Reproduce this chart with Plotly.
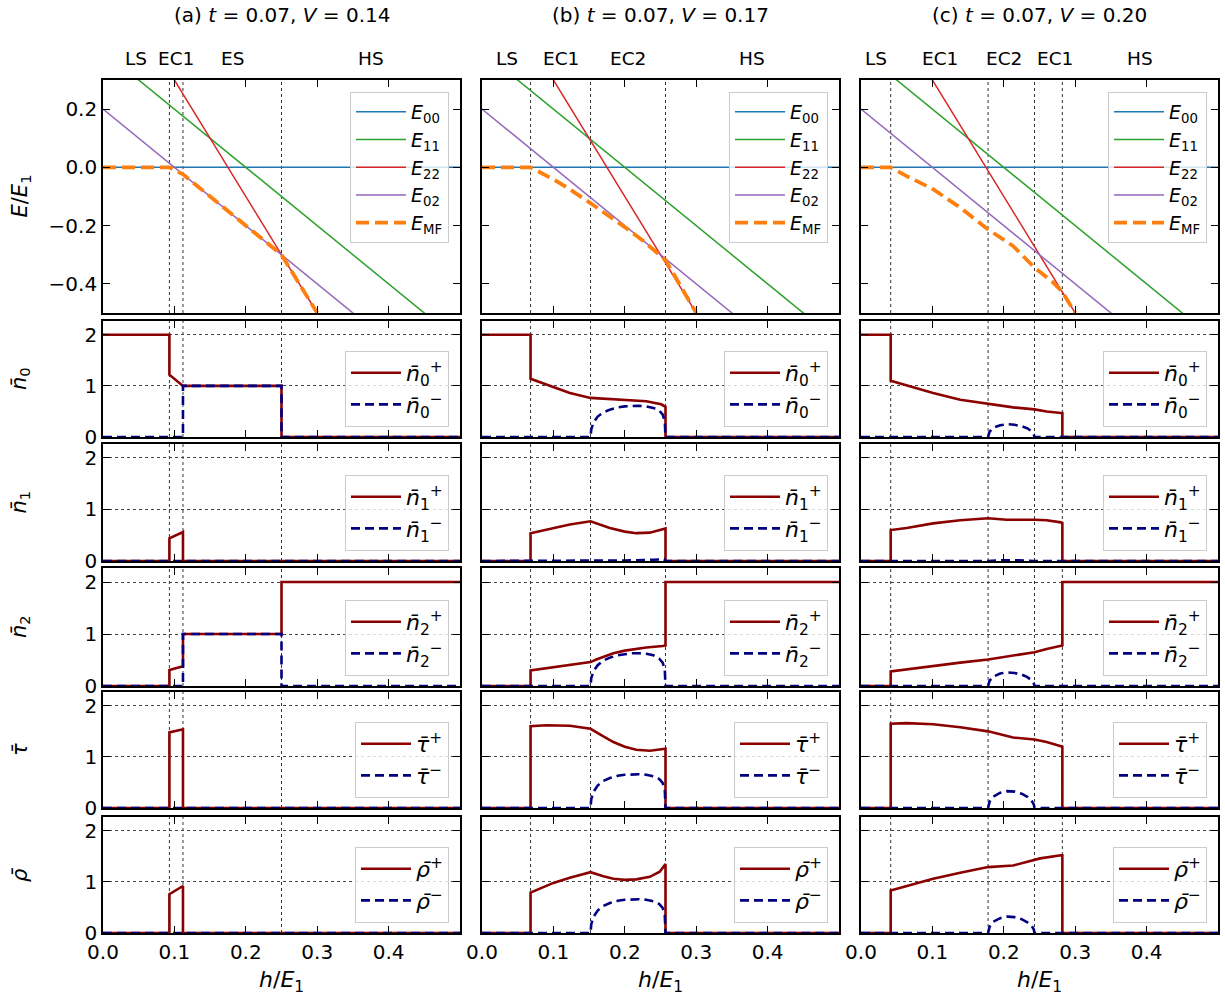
import plotly.graph_objects as go

# ---------------- data ----------------
# energy lines (straight lines, given by end points at h = 0 and h = 0.5)
h_line = [0.0, 0.5]
E00 = [0.0, 0.0]
E11 = [0.4, -0.6]
E22 = [0.7, -1.3]
E02 = [0.2, -0.8]

# mean-field energy per panel
a_mf_h = [0.0, 0.093, 0.1, 0.112, 0.25, 0.3]
a_mf = [0.0, 0.0, -0.009, -0.024, -0.3, -0.5]
b_mf_h = [0.0, 0.068, 0.1, 0.123, 0.152, 0.179, 0.2, 0.226, 0.257, 0.3]
b_mf = [0.0, 0.0, -0.041, -0.075, -0.123, -0.167, -0.205, -0.253, -0.318, -0.5]
c_mf_h = [0.0, 0.0416, 0.064, 0.101, 0.139, 0.178, 0.213, 0.243, 0.269, 0.282, 0.3]
c_mf = [0.0, 0.0, -0.030, -0.075, -0.138, -0.213, -0.27, -0.344, -0.395, -0.428, -0.5]

# phase boundaries
a_bounds = [0.093, 0.112, 0.25]
b_bounds = [0.068, 0.152, 0.257]
c_bounds = [0.0416, 0.178, 0.243, 0.282]

# region labels
a_regions = ["LS", "EC1", "ES", "HS"]
a_region_x = [0.046, 0.102, 0.181, 0.375]
b_regions = ["LS", "EC1", "EC2", "HS"]
b_region_x = [0.0345, 0.110, 0.2046, 0.3786]
c_regions = ["LS", "EC1", "EC2", "EC1", "HS"]
c_region_x = [0.021, 0.1106, 0.2003, 0.2717, 0.3908]

titles = ["(a) <i>t</i> = 0.07, <i>V</i> = 0.14",
          "(b) <i>t</i> = 0.07, <i>V</i> = 0.17",
          "(c) <i>t</i> = 0.07, <i>V</i> = 0.20"]

zero_h = [0.0, 0.5]
zero_v = [0.0, 0.0]

# ---- panel (a) ----
a_n0p_h = [0.0, 0.093, 0.093, 0.112, 0.25, 0.25, 0.5]
a_n0p = [2.0, 2.0, 1.22, 1.0, 1.0, 0.0, 0.0]
a_n0m_h = [0.0, 0.112, 0.112, 0.25, 0.25, 0.5]
a_n0m = [0.0, 0.0, 1.0, 1.0, 0.0, 0.0]
a_n1p_h = [0.0, 0.093, 0.093, 0.112, 0.112, 0.5]
a_n1p = [0.0, 0.0, 0.44, 0.56, 0.0, 0.0]
a_n2p_h = [0.0, 0.093, 0.093, 0.112, 0.112, 0.25, 0.25, 0.5]
a_n2p = [0.0, 0.0, 0.31, 0.38, 1.0, 1.0, 2.0, 2.0]
a_n2m_h = [0.0, 0.112, 0.112, 0.25, 0.25, 0.5]
a_n2m = [0.0, 0.0, 1.0, 1.0, 0.0, 0.0]
a_taup_h = [0.0, 0.093, 0.093, 0.112, 0.112, 0.5]
a_taup = [0.0, 0.0, 1.48, 1.54, 0.0, 0.0]
a_rhop_h = [0.0, 0.093, 0.093, 0.112, 0.112, 0.5]
a_rhop = [0.0, 0.0, 0.76, 0.92, 0.0, 0.0]

# ---- panel (b) ----
b_n0p_h = [0.0, 0.068, 0.068, 0.1, 0.123, 0.152, 0.179, 0.2, 0.23, 0.251, 0.257, 0.257, 0.5]
b_n0p = [2.0, 2.0, 1.14, 0.98, 0.86, 0.765, 0.745, 0.73, 0.70, 0.64, 0.59, 0.0, 0.0]
b_dome_h = [0.0, 0.152, 0.153, 0.156, 0.162, 0.17, 0.18, 0.19, 0.2, 0.21, 0.22,
            0.23, 0.24, 0.248, 0.253, 0.256, 0.257, 0.5]
b_n0m = [0.0, 0.0, 0.15, 0.28, 0.40, 0.48, 0.54, 0.58, 0.60, 0.61, 0.61,
         0.60, 0.57, 0.52, 0.44, 0.32, 0.0, 0.0]
b_n1p_h = [0.0, 0.068, 0.068, 0.1, 0.123, 0.152, 0.165, 0.179, 0.2, 0.216, 0.235, 0.253, 0.257, 0.257, 0.5]
b_n1p = [0.0, 0.0, 0.54, 0.64, 0.71, 0.77, 0.70, 0.64, 0.57, 0.54, 0.55, 0.61, 0.63, 0.0, 0.0]
b_n1m_h = [0.0, 0.152, 0.2, 0.24, 0.255, 0.257, 0.5]
b_n1m = [0.0, 0.0, 0.01, 0.025, 0.035, 0.0, 0.0]
b_n2p_h = [0.0, 0.068, 0.068, 0.152, 0.16, 0.17, 0.184, 0.2, 0.23, 0.253, 0.257, 0.257, 0.5]
b_n2p = [0.0, 0.0, 0.30, 0.46, 0.51, 0.56, 0.63, 0.68, 0.74, 0.77, 0.78, 2.0, 2.0]
b_n2m = [0.0, 0.0, 0.15, 0.28, 0.40, 0.49, 0.55, 0.59, 0.61, 0.63, 0.63,
         0.62, 0.59, 0.53, 0.45, 0.32, 0.0, 0.0]
b_taup_h = [0.0, 0.068, 0.068, 0.09, 0.123, 0.152, 0.17, 0.184, 0.2, 0.216, 0.235, 0.2545, 0.257, 0.257, 0.5]
b_taup = [0.0, 0.0, 1.60, 1.62, 1.61, 1.55, 1.40, 1.29, 1.20, 1.14, 1.12, 1.15, 1.16, 0.0, 0.0]
b_taum = [0.0, 0.0, 0.17, 0.31, 0.44, 0.53, 0.59, 0.63, 0.65, 0.66, 0.66,
          0.65, 0.62, 0.57, 0.49, 0.36, 0.0, 0.0]
b_rhop_h = [0.0, 0.068, 0.068, 0.1, 0.123, 0.152, 0.17, 0.184, 0.2, 0.216, 0.235, 0.249, 0.257, 0.257, 0.5]
b_rhop = [0.0, 0.0, 0.79, 0.98, 1.08, 1.19, 1.11, 1.06, 1.04, 1.05, 1.10, 1.20, 1.35, 0.0, 0.0]
b_rhom = [0.0, 0.0, 0.17, 0.31, 0.44, 0.53, 0.59, 0.63, 0.65, 0.66, 0.66,
          0.65, 0.62, 0.57, 0.49, 0.36, 0.0, 0.0]

# ---- panel (c) ----
c_n0p_h = [0.0, 0.0416, 0.0416, 0.064, 0.101, 0.139, 0.178, 0.213, 0.243, 0.26, 0.28, 0.282, 0.282, 0.5]
c_n0p = [2.0, 2.0, 1.10, 1.01, 0.86, 0.73, 0.65, 0.58, 0.54, 0.50, 0.47, 0.47, 0.0, 0.0]
c_dome_h = [0.0, 0.178, 0.18, 0.185, 0.195, 0.205, 0.215, 0.225, 0.233, 0.239, 0.242, 0.243, 0.5]
c_n0m = [0.0, 0.0, 0.10, 0.18, 0.23, 0.25, 0.24, 0.21, 0.17, 0.11, 0.05, 0.0, 0.0]
c_n1p_h = [0.0, 0.0416, 0.0416, 0.064, 0.101, 0.139, 0.178, 0.204, 0.243, 0.26, 0.28, 0.282, 0.282, 0.5]
c_n1p = [0.0, 0.0, 0.60, 0.64, 0.73, 0.79, 0.83, 0.80, 0.80, 0.79, 0.75, 0.74, 0.0, 0.0]
c_n1m_h = [0.0, 0.178, 0.2, 0.22, 0.243, 0.5]
c_n1m = [0.0, 0.0, 0.015, 0.015, 0.0, 0.0]
c_n2p_h = [0.0, 0.0416, 0.0416, 0.101, 0.139, 0.178, 0.213, 0.243, 0.26, 0.28, 0.282, 0.282, 0.5]
c_n2p = [0.0, 0.0, 0.28, 0.39, 0.45, 0.51, 0.59, 0.65, 0.71, 0.77, 0.78, 2.0, 2.0]
c_n2m = [0.0, 0.0, 0.10, 0.18, 0.24, 0.26, 0.25, 0.22, 0.17, 0.11, 0.05, 0.0, 0.0]
c_taup_h = [0.0, 0.0416, 0.0416, 0.064, 0.101, 0.139, 0.178, 0.199, 0.213, 0.243, 0.26, 0.28, 0.282, 0.282, 0.5]
c_taup = [0.0, 0.0, 1.65, 1.66, 1.64, 1.58, 1.50, 1.43, 1.38, 1.34, 1.29, 1.21, 1.20, 0.0, 0.0]
c_taum = [0.0, 0.0, 0.12, 0.22, 0.30, 0.33, 0.32, 0.28, 0.22, 0.14, 0.07, 0.0, 0.0]
c_rhop_h = [0.0, 0.0416, 0.0416, 0.064, 0.101, 0.139, 0.178, 0.213, 0.232, 0.251, 0.28, 0.282, 0.282, 0.5]
c_rhop = [0.0, 0.0, 0.83, 0.92, 1.06, 1.18, 1.29, 1.32, 1.39, 1.46, 1.52, 1.52, 0.0, 0.0]
c_rhom = [0.0, 0.0, 0.12, 0.22, 0.29, 0.32, 0.31, 0.27, 0.21, 0.14, 0.07, 0.0, 0.0]

x_ticks = [0.0, 0.1, 0.2, 0.3, 0.4]
E_ticks = [-0.4, -0.2, 0.0, 0.2]
E_ticktext = ["\u22120.4", "\u22120.2", "0.0", "0.2"]
n_ticks = [0, 1, 2]

# ---------------- assemble ----------------
W, H = 1225, 1000
FONT = "DejaVu Sans"
col_px = [(103, 460), (482, 839), (861, 1218)]
row_px = [(80, 313), (321, 437), (444, 561), (568, 686), (692, 808), (817, 933)]

mf = [(a_mf_h, a_mf), (b_mf_h, b_mf), (c_mf_h, c_mf)]
bounds = [a_bounds, b_bounds, c_bounds]
regions = [(a_regions, a_region_x), (b_regions, b_region_x), (c_regions, c_region_x)]

lower = [
    [(a_n0p_h, a_n0p, a_n0m_h, a_n0m), (a_n1p_h, a_n1p, zero_h, zero_v),
     (a_n2p_h, a_n2p, a_n2m_h, a_n2m), (a_taup_h, a_taup, zero_h, zero_v),
     (a_rhop_h, a_rhop, zero_h, zero_v)],
    [(b_n0p_h, b_n0p, b_dome_h, b_n0m), (b_n1p_h, b_n1p, b_n1m_h, b_n1m),
     (b_n2p_h, b_n2p, b_dome_h, b_n2m), (b_taup_h, b_taup, b_dome_h, b_taum),
     (b_rhop_h, b_rhop, b_dome_h, b_rhom)],
    [(c_n0p_h, c_n0p, c_dome_h, c_n0m), (c_n1p_h, c_n1p, c_n1m_h, c_n1m),
     (c_n2p_h, c_n2p, c_dome_h, c_n2m), (c_taup_h, c_taup, c_dome_h, c_taum),
     (c_rhop_h, c_rhop, c_dome_h, c_rhom)],
]

nb = "<i>n\u0304</i>"
row_sym = [None, (nb, "<sub>0</sub>"), (nb, "<sub>1</sub>"), (nb, "<sub>2</sub>"),
           ("<i>\u03c4\u0304</i>", ""), ("<i>\u03c1\u0304</i>", "")]
ytitles = ["<i>E</i>/<i>E</i><sub>1</sub>", nb + "<sub>0</sub>", nb + "<sub>1</sub>",
           nb + "<sub>2</sub>", "<i>\u03c4\u0304</i>", "<i>\u03c1\u0304</i>"]

fig = go.Figure()
layout = dict(width=W, height=H,
              margin=dict(l=0, r=0, t=0, b=0, pad=0, autoexpand=False),
              plot_bgcolor="white", paper_bgcolor="white",
              font=dict(family=FONT, size=20, color="black"))
shapes, annotations = [], []

def px_x(p):
    return p / W

def px_y(p):
    return 1 - p / H

E_specs = [(E00, "#1f77b4", "<i>E</i><sub>00</sub>"),
           (E11, "#2ca02c", "<i>E</i><sub>11</sub>"),
           (E22, "#d62728", "<i>E</i><sub>22</sub>"),
           (E02, "#9467bd", "<i>E</i><sub>02</sub>")]

TOP_LEG_FONT = 19
LOW_LEG_FONT = 22

for r in range(6):
    for c in range(3):
        k = r * 3 + c + 1
        xs = "" if k == 1 else str(k)
        xa, ya = "x" + xs, "y" + xs
        leg = "legend" if k == 1 else "legend%d" % k
        x0p, x1p = col_px[c]
        y0p, y1p = row_px[r]
        layout["xaxis" + xs] = dict(
            domain=[px_x(x0p), px_x(x1p)], anchor=ya, range=[0, 0.5],
            tickvals=x_ticks, tickformat=".1f", showticklabels=(r == 5),
            ticks="inside", ticklen=7, tickwidth=1.3, tickcolor="black",
            mirror="allticks", showline=True, linecolor="black", linewidth=1.6,
            showgrid=False, zeroline=False, tickfont=dict(size=20))
        if r == 0:
            yax = dict(range=[-0.5, 0.3], tickvals=E_ticks, ticktext=E_ticktext,
                       showgrid=False)
        else:
            yax = dict(range=[0, 2.27], tickvals=n_ticks, showgrid=True,
                       gridcolor="#444444", gridwidth=0.8, griddash="dot")
        yax.update(domain=[px_y(y1p), px_y(y0p)], anchor=xa,
                   showticklabels=(c == 0), ticks="inside", ticklen=7,
                   tickwidth=1.3, tickcolor="black", mirror="allticks",
                   showline=True, linecolor="black", linewidth=1.6,
                   zeroline=False, tickfont=dict(size=20))
        layout["yaxis" + xs] = yax

        for b in bounds[c]:
            shapes.append(dict(type="line", xref=xa, yref=ya + " domain",
                               x0=b, x1=b, y0=0, y1=1, layer="below",
                               line=dict(color="black", width=0.8, dash="dot")))

        if r == 0:
            for vals, col, name in E_specs:
                fig.add_trace(go.Scatter(x=h_line, y=vals, mode="lines", name=name,
                                         line=dict(color=col, width=1.5),
                                         xaxis=xa, yaxis=ya, legend=leg))
            fig.add_trace(go.Scatter(x=mf[c][0], y=mf[c][1], mode="lines",
                                     name="<i>E</i><sub>MF</sub>",
                                     line=dict(color="#ff7f0e", width=3.8, dash="13px,6px"),
                                     xaxis=xa, yaxis=ya, legend=leg))
            layout[leg] = dict(x=px_x(x1p - 11), xanchor="right", y=px_y(y0p + 12),
                               yanchor="top", bgcolor="rgba(255,255,255,0.8)",
                               bordercolor="#cccccc", borderwidth=1,
                               font=dict(size=TOP_LEG_FONT), itemwidth=50,
                               tracegroupgap=0)
        else:
            ph, pv, mh, mv = lower[c][r - 1]
            sym, sub = row_sym[r]
            fig.add_trace(go.Scatter(x=ph, y=pv, mode="lines",
                                     name=sym + sub + "<sup>+</sup>",
                                     line=dict(color="#8b0000", width=2.6),
                                     xaxis=xa, yaxis=ya, legend=leg))
            fig.add_trace(go.Scatter(x=mh, y=mv, mode="lines",
                                     name=sym + sub + "<sup>\u2212</sup>",
                                     line=dict(color="#000080", width=2.6, dash="9px,5px"),
                                     xaxis=xa, yaxis=ya, legend=leg))
            layout[leg] = dict(x=px_x(x1p - 11), xanchor="right", y=px_y(y1p - 10),
                               yanchor="bottom", bgcolor="rgba(255,255,255,0.8)",
                               bordercolor="#cccccc", borderwidth=1,
                               font=dict(size=LOW_LEG_FONT), itemwidth=50)

for c in range(3):
    x0p, x1p = col_px[c]
    annotations.append(dict(text=titles[c], xref="paper", yref="paper",
                            x=px_x((x0p + x1p) / 2), y=px_y(15), showarrow=False,
                            xanchor="center", yanchor="middle", font=dict(size=20)))
    annotations.append(dict(text="<i>h</i>/<i>E</i><sub>1</sub>", xref="paper", yref="paper",
                            x=px_x((x0p + x1p) / 2), y=px_y(981), showarrow=False,
                            xanchor="center", yanchor="middle", font=dict(size=22)))
    labs, labx = regions[c]
    xa = "x" if c == 0 else "x%d" % (c + 1)
    for lab, lx in zip(labs, labx):
        annotations.append(dict(text=lab, xref=xa, yref="paper", x=lx, y=px_y(59),
                                showarrow=False, xanchor="center", yanchor="middle",
                                font=dict(size=18.5)))

for r in range(6):
    y0p, y1p = row_px[r]
    annotations.append(dict(text=ytitles[r], xref="paper", yref="paper",
                            x=px_x(20), y=px_y((y0p + y1p) / 2), textangle=-90,
                            showarrow=False, xanchor="center", yanchor="middle",
                            font=dict(size=21)))

layout["shapes"] = shapes
layout["annotations"] = annotations
fig.update_layout(**layout)
fig.write_html("out.html", config={"displayModeBar": False},
               post_script="document.body.style.margin='0px';document.body.style.overflow='hidden';")
